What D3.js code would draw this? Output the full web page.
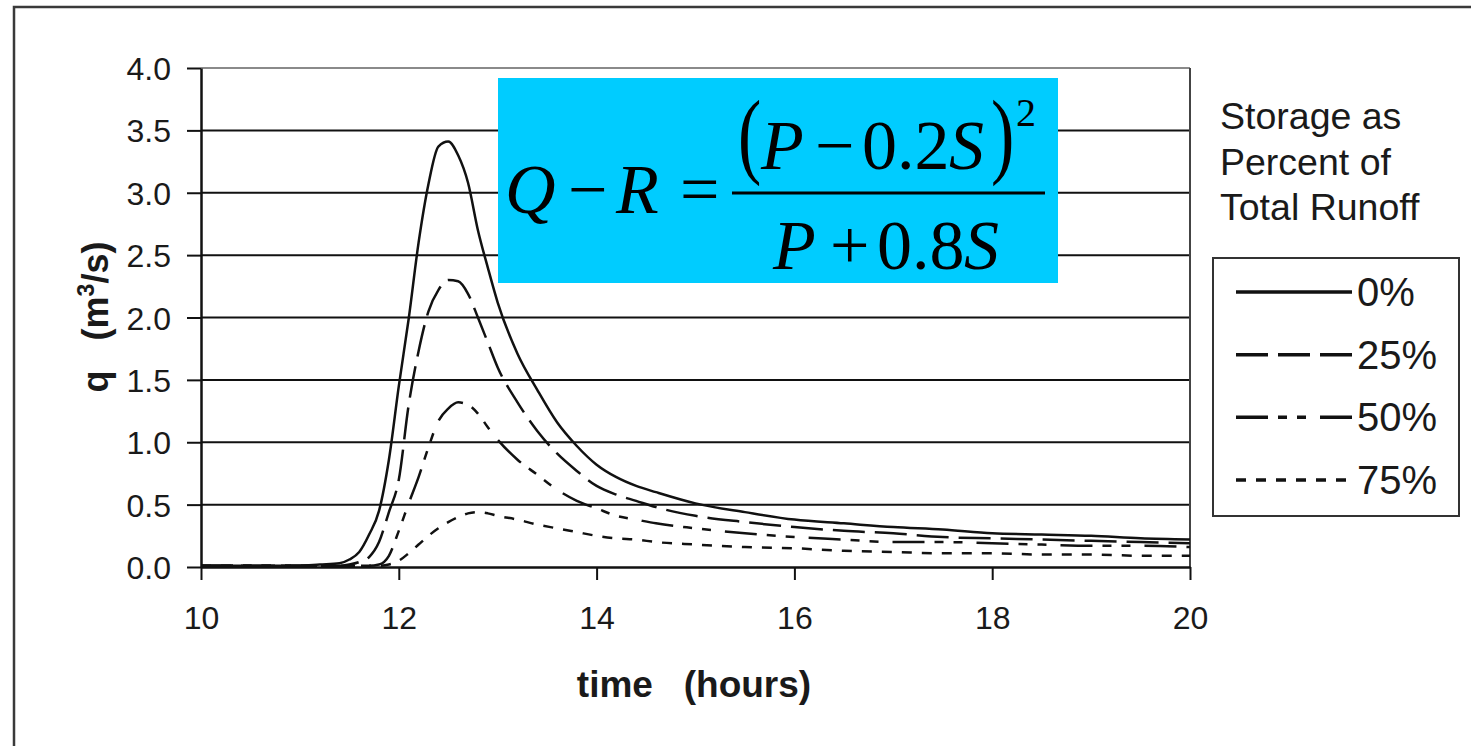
<!DOCTYPE html>
<html>
<head>
<meta charset="utf-8">
<script src="https://cdn.jsdelivr.net/npm/d3@7"></script>
<style>
  html, body { margin: 0; padding: 0; background: #fff; }
  svg { display: block; }
  .sans { font-family: "Liberation Sans", Arial, sans-serif; }
  .serif { font-family: "Liberation Serif", "Times New Roman", serif; }
</style>
</head>
<body>
<svg id="chart" width="1471" height="746"></svg>
<script>
// Hydrograph time steps (hours)
const times = [10, 10.5, 11, 11.2, 11.4, 11.5, 11.6, 11.7, 11.8, 11.9,
               12.0, 12.1, 12.2, 12.3, 12.4, 12.5, 12.6, 12.7, 12.8, 12.9,
               13.0, 13.2, 13.4, 13.6, 13.8, 14.0, 14.2, 14.4, 14.6, 15.0,
               15.5, 16.0, 16.5, 17.0, 17.5, 18.0, 18.5, 19.0, 19.5, 20];

// Discharge q (m3/s) for each storage share
const q0 = [0.01, 0.01, 0.01, 0.02, 0.03, 0.06, 0.12, 0.26, 0.45, 0.86,
            1.45, 1.99, 2.60, 3.07, 3.37, 3.41, 3.30, 3.08, 2.70, 2.40,
            2.12, 1.71, 1.42, 1.16, 0.97, 0.82, 0.72, 0.65, 0.60, 0.51,
            0.44, 0.38, 0.35, 0.32, 0.30, 0.27, 0.26, 0.25, 0.23, 0.22];
const q25 = [0.01, 0.01, 0.01, 0.01, 0.01, 0.02, 0.04, 0.08, 0.20, 0.44,
             0.70, 1.30, 1.73, 2.05, 2.22, 2.30, 2.29, 2.19, 2.00, 1.80,
             1.60, 1.32, 1.09, 0.91, 0.77, 0.65, 0.58, 0.53, 0.48, 0.41,
             0.36, 0.32, 0.29, 0.27, 0.24, 0.23, 0.22, 0.21, 0.20, 0.19];
const q50 = [0.01, 0.01, 0.01, 0.01, 0.01, 0.01, 0.01, 0.01, 0.02, 0.09,
             0.29, 0.51, 0.72, 0.96, 1.17, 1.27, 1.32, 1.30, 1.23, 1.12,
             1.02, 0.86, 0.74, 0.62, 0.53, 0.47, 0.41, 0.38, 0.35, 0.31,
             0.27, 0.24, 0.22, 0.20, 0.20, 0.19, 0.18, 0.17, 0.17, 0.16];
const q75 = [0.01, 0.01, 0.01, 0.01, 0.01, 0.01, 0.01, 0.01, 0.01, 0.02,
             0.05, 0.11, 0.18, 0.25, 0.31, 0.36, 0.40, 0.43, 0.44, 0.43,
             0.41, 0.38, 0.34, 0.31, 0.28, 0.25, 0.23, 0.22, 0.20, 0.18,
             0.16, 0.15, 0.13, 0.12, 0.11, 0.11, 0.10, 0.10, 0.09, 0.09];

const seriesLabels = ["0%", "25%", "50%", "75%"];
const seriesValues = [q0, q25, q50, q75];
const xTicks = [10, 12, 14, 16, 18, 20];
const yTicks = [0, 0.5, 1, 1.5, 2, 2.5, 3, 3.5, 4];
const legendTitle = ["Storage as", "Percent of", "Total Runoff"];

// line styles per series: solid, dashed, dash-dot-dot, dotted
const dashes = [null, "32,10", "32,10,9,10,9,14", "10,10"];

const svg = d3.select("#chart");
const ink = "#1a1a1a";

// outer frame (left and top edges)
svg.append("path")
  .attr("d", "M14,746 L14,7 L1471,7")
  .attr("fill", "none").attr("stroke", "#3a3a3a").attr("stroke-width", 2.5);

const x = d3.scaleLinear().domain([10, 20]).range([201, 1190]);
const y = d3.scaleLinear().domain([0, 4]).range([567, 68]);

// horizontal gridlines
svg.append("g").selectAll("line")
  .data(yTicks.filter(v => v > 0))
  .join("line")
  .attr("x1", x(10)).attr("x2", x(20))
  .attr("y1", d => y(d)).attr("y2", d => y(d))
  .attr("stroke", d => d === 4 ? "#8a8a8a" : "#111")
  .attr("stroke-width", 2);

// right edge of plot area
svg.append("line")
  .attr("x1", x(20)).attr("x2", x(20))
  .attr("y1", y(4)).attr("y2", y(0))
  .attr("stroke", "#444").attr("stroke-width", 2);

// y axis
const yAxis = svg.append("g")
  .attr("transform", `translate(${x(10)},0)`)
  .call(d3.axisLeft(y).tickValues(yTicks).tickFormat(d3.format(".1f"))
        .tickSize(14).tickSizeOuter(0).tickPadding(16));
yAxis.select(".domain").attr("stroke", "#111").attr("stroke-width", 2.5);
yAxis.selectAll(".tick line").attr("stroke", "#111").attr("stroke-width", 2);
yAxis.selectAll(".tick text")
  .attr("class", "sans").attr("font-size", 32).attr("fill", ink)
  .attr("dy", "0.36em");

// x axis
const xAxis = svg.append("g")
  .attr("transform", `translate(0,${y(0)})`)
  .call(d3.axisBottom(x).tickValues(xTicks).tickFormat(d3.format("d"))
        .tickSize(13).tickSizeOuter(0).tickPadding(26));
xAxis.select(".domain").attr("stroke", "#111").attr("stroke-width", 2.5);
xAxis.selectAll(".tick line").attr("stroke", "#111").attr("stroke-width", 2);
xAxis.selectAll(".tick text")
  .attr("class", "sans").attr("font-size", 32).attr("fill", ink);

// hydrograph curves
const line = d3.line()
  .x((d, i) => x(times[i]))
  .y(d => y(d))
  .curve(d3.curveMonotoneX);

svg.append("g").selectAll("path")
  .data(seriesValues)
  .join("path")
  .attr("d", d => line(d))
  .attr("fill", "none")
  .attr("stroke", "#111")
  .attr("stroke-width", 2.5)
  .attr("stroke-dasharray", (d, i) => dashes[i]);

// axis titles
svg.append("text")
  .attr("class", "sans")
  .attr("x", 694).attr("y", 697)
  .attr("text-anchor", "middle")
  .attr("font-size", 37).attr("font-weight", "bold").attr("fill", ink)
  .attr("xml:space", "preserve")
  .text("time   (hours)");

const yTitle = svg.append("text")
  .attr("class", "sans")
  .attr("transform", "translate(108,317) rotate(-90)")
  .attr("text-anchor", "middle")
  .attr("font-size", 36).attr("font-weight", "bold").attr("fill", ink)
  .attr("xml:space", "preserve");
yTitle.append("tspan").text("q   (m");
yTitle.append("tspan").attr("font-size", 23).attr("dy", -14).text("3");
yTitle.append("tspan").attr("dy", 14).text("/s)");

// formula panel
svg.append("rect")
  .attr("x", 498).attr("y", 78).attr("width", 560).attr("height", 205)
  .attr("fill", "#00ccff");

const f = svg.append("g").attr("class", "serif").attr("fill", "#000");
const fs = 70;
function put(txt, px, py, opts = {}) {
  f.append("text")
    .attr("x", px).attr("y", py)
    .attr("font-size", opts.size || fs)
    .attr("font-style", opts.italic ? "italic" : "normal")
    .text(txt);
}
// tall parentheses around the numerator
function paren(txt, px, py) {
  f.append("text")
    .attr("transform", `translate(${px},${py}) scale(1,1.36)`)
    .attr("font-size", fs)
    .text(txt);
}
put("Q", 505, 213, {italic: true});
put("\u2212", 568, 213);
put("R", 616, 213, {italic: true});
put("=", 680, 213);
f.append("line")
  .attr("x1", 732).attr("x2", 1045).attr("y1", 193).attr("y2", 193)
  .attr("stroke", "#000").attr("stroke-width", 3);
// numerator
paren("(", 738, 166);
put("P", 761, 169, {italic: true});
put("\u2212", 815, 169);
put("0.2", 862, 169);
put("S", 949, 169, {italic: true});
paren(")", 991, 166);
put("2", 1016, 126, {size: 40});
// denominator
put("P", 773, 269, {italic: true});
put("+", 830, 269);
put("0.8", 877, 269);
put("S", 964, 269, {italic: true});

// legend title
svg.append("g").selectAll("text")
  .data(legendTitle)
  .join("text")
  .attr("class", "sans")
  .attr("x", 1220).attr("y", (d, i) => 129 + i * 45.5)
  .attr("font-size", 37.5).attr("fill", ink)
  .text(d => d);

// legend box
svg.append("rect")
  .attr("x", 1213).attr("y", 258).attr("width", 246).attr("height", 258)
  .attr("fill", "none").attr("stroke", "#333").attr("stroke-width", 2);

const rowY = d3.scalePoint().domain(seriesLabels).range([292, 480]);
const leg = svg.append("g").selectAll("g")
  .data(seriesLabels)
  .join("g")
  .attr("transform", d => `translate(0,${rowY(d)})`);
leg.append("line")
  .attr("x1", 1236).attr("x2", 1352)
  .attr("stroke", "#111").attr("stroke-width", 3.5)
  .attr("stroke-dasharray", (d, i) => dashes[i]);
leg.append("text")
  .attr("class", "sans")
  .attr("x", 1357).attr("y", 14)
  .attr("font-size", 40).attr("fill", ink)
  .text(d => d);
</script>
</body>
</html>
